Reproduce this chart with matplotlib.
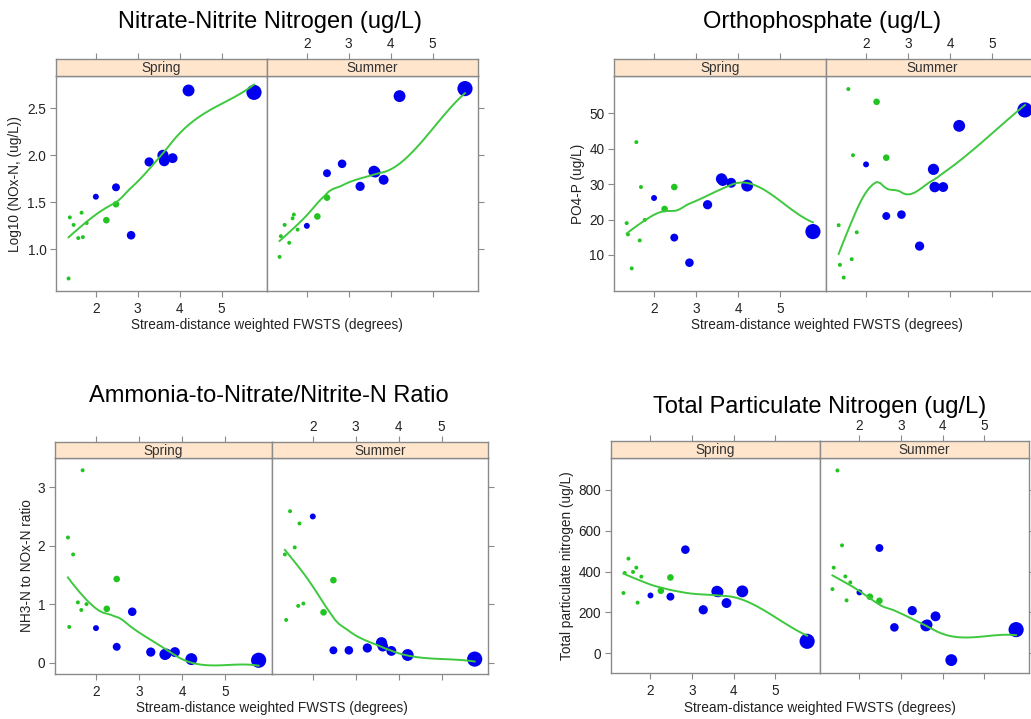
import numpy as np
import matplotlib
matplotlib.use("Agg")
import matplotlib.pyplot as plt

plt.rcParams['font.family'] = ['Liberation Sans', 'DejaVu Sans']

# --- Data (18 sites, shared x = stream-distance weighted FWSTS) ---
site_x = [1.35, 1.38, 1.47, 1.58, 1.66, 1.69, 1.78, 2.00, 2.25, 2.48,
          2.48, 2.84, 3.27, 3.60, 3.63, 3.83, 4.21, 5.77]
site_group = ['G', 'G', 'G', 'G', 'G', 'G', 'G', 'B', 'G', 'G',
              'B', 'B', 'B', 'B', 'B', 'B', 'B', 'B']
site_cex = [0.6, 0.6, 0.6, 0.6, 0.6, 0.6, 0.6, 0.9, 1.0, 1.0,
            1.2, 1.3, 1.4, 1.7, 1.6, 1.5, 1.8, 2.3]
seasons = ["Spring", "Summer"]

nox_spring = [0.69, 1.34, 1.26, 1.12, 1.39, 1.13, 1.28, 1.56, 1.31, 1.48,
              1.66, 1.15, 1.93, 2.00, 1.94, 1.97, 2.69, 2.67]
nox_summer = [0.92, 1.14, 1.26, 1.07, 1.33, 1.37, 1.21, 1.25, 1.35, 1.55,
              1.81, 1.91, 1.67, 1.83, 1.82, 1.74, 2.63, 2.71]

po4_spring = [19.0, 15.8, 6.2, 41.9, 14.1, 29.2, 19.9, 26.1, 23.0, 29.2,
              14.9, 7.8, 24.2, 31.5, 31.0, 30.4, 29.6, 16.6]
po4_summer = [18.4, 7.2, 3.6, 56.9, 8.8, 38.2, 16.4, 35.6, 53.3, 37.5,
              21.0, 21.4, 12.5, 34.2, 29.2, 29.2, 46.5, 51.0]

ratio_spring = [2.14, 0.61, 1.85, 1.03, 0.90, 3.29, 1.00, 0.59, 0.92, 1.43,
                0.27, 0.87, 0.18, 0.14, 0.15, 0.18, 0.06, 0.04]
ratio_summer = [1.85, 0.73, 2.59, 1.97, 0.97, 2.38, 1.01, 2.50, 0.86, 1.41,
                0.21, 0.21, 0.25, 0.34, 0.28, 0.20, 0.13, 0.06]

tpn_spring = [295, 393, 463, 398, 419, 248, 375, 283, 306, 371,
              277, 507, 213, 303, 300, 246, 303, 59]
tpn_summer = [314, 419, 894, 528, 376, 259, 347, 298, 277, 257,
              515, 127, 209, 135, 140, 181, -33, 116]

x_ticks = [2, 3, 4, 5]
xlabel = "Stream-distance weighted FWSTS (degrees)"

# --- Styling ---
W, H = 1031, 719
GREEN = '#22c422'
BLUE = '#0000ee'
LINE = '#3ec83e'
BORDER = '#8a8a8a'
STRIP = '#ffe5cc'
TXT = '#222222'
FS = 9.8
XLIM = (1.05, 6.08)


def loess(x, y, span=2/3, iterations=4, n_eval=50, cell=0.2):
    # robust local-linear loess, evaluated like R's loess "interpolate"
    # surface (kd-tree vertices + cubic Hermite), as used by panel.loess
    x = np.asarray(x, float)
    y = np.asarray(y, float)
    o = np.argsort(x)
    x, y = x[o], y[o]
    n = len(x)
    q = int(np.floor(n * span))
    fc = int(np.floor(n * span * cell))

    mu = 0.005 * (x.max() - x.min())
    verts = [x.min() - mu, x.max() + mu]

    def build(l, u, vlo, vhi):
        if u - l + 1 <= fc:
            return
        m = (l + u) // 2
        while m >= 1 and x[m - 1] == x[m]:
            m -= 1
        v = x[m]
        if v == vlo or v == vhi:
            return
        verts.append(v)
        build(l, m, vlo, v)
        build(m + 1, u, v, vhi)

    build(0, n - 1, verts[0], verts[1])
    vx = np.array(sorted(verts))

    def fit_at(x0, rw):
        d = np.abs(x - x0)
        h = np.sort(d)[q - 1]
        u = np.clip(d / h, 0, 1)
        w = (1 - u ** 3) ** 3 * rw
        X = np.column_stack([np.ones(n), x - x0])
        A = X.T @ (X * w[:, None])
        b = X.T @ (w * y)
        return np.linalg.lstsq(A, b, rcond=None)[0]

    def surface(xq, vv, vs):
        i = np.clip(np.searchsorted(vx, xq, side='right') - 1, 0, len(vx) - 2)
        d = vx[i + 1] - vx[i]
        t = (xq - vx[i]) / d
        return ((1 - t) ** 2 * (1 + 2 * t) * vv[i] + t ** 2 * (3 - 2 * t) * vv[i + 1]
                + (t * (1 - t) ** 2 * vs[i] + t ** 2 * (t - 1) * vs[i + 1]) * d)

    rob = np.ones(n)
    for it in range(iterations):
        coef = np.array([fit_at(v, rob) for v in vx])
        vv, vs = coef[:, 0], coef[:, 1]
        if it < iterations - 1:
            res = y - surface(x, vv, vs)
            cmad = 6 * np.median(np.abs(res))
            r = np.abs(res)
            rob = np.where(r <= 0.001 * cmad, 1.0,
                           np.where(r > 0.999 * cmad, 0.0,
                                    (1 - (r / cmad) ** 2) ** 2))
    xs = np.linspace(x.min(), x.max(), n_eval)
    return xs, surface(xs, vv, vs)


fig = plt.figure(figsize=(W / 100, H / 100), dpi=100)


def px_axes(x0, y0, x1, y1):
    return fig.add_axes([x0 / W, 1 - y1 / H, (x1 - x0) / W, (y1 - y0) / H])


# (title, ylabel, spring, summer, ylim, yticks, box, title_xy, ylabel_x)
panels = [
    ("Nitrate-Nitrite Nitrogen (ug/L)", "Log10 (NOx-N, (ug/L))",
     nox_spring, nox_summer, (0.557, 2.844), [1.0, 1.5, 2.0, 2.5],
     (56, 267, 478, 59, 76, 291), (270, 22), 15, (267, 325)),
    ("Orthophosphate (ug/L)", "PO4-P (ug/L)",
     po4_spring, po4_summer, (-0.2, 60.6), [10, 20, 30, 40, 50],
     (614, 826, 1038, 59, 76, 291), (822, 22), 578, (827, 325)),
    ("Ammonia-to-Nitrate/Nitrite-N Ratio", "NH3-N to NOx-N ratio",
     ratio_spring, ratio_summer, (-0.195, 3.50), [0, 1, 2, 3],
     (55, 272, 488, 442, 458, 674), (269, 396), 27, (272, 708)),
    ("Total Particulate Nitrogen (ug/L)", "Total particulate nitrogen (ug/L)",
     tpn_spring, tpn_summer, (-96, 955), [0, 200, 400, 600, 800],
     (611, 820, 1029, 441, 458, 673), (820, 407), 567, (820, 708)),
]

xs_arr = np.array(site_x)
cols = [GREEN if g == 'G' else BLUE for g in site_group]
sizes = [(c * 6.6 / 1.389) ** 2 for c in site_cex]

for title, ylab, ysp, ysu, ylim, yticks, box, tpos, ylx, xlpos in panels:
    left, mid, right, s_top, s_bot, bottom = box
    edges = [(left, mid), (mid, right)]
    for j, (season, yv) in enumerate(zip(seasons, [ysp, ysu])):
        x0, x1 = edges[j]
        ax = px_axes(x0, s_bot, x1, bottom)
        ax.set_xlim(*XLIM)
        ax.set_ylim(*ylim)
        ax.scatter(xs_arr, yv, s=sizes, c=cols, linewidths=0, zorder=2)
        lx, ly = loess(xs_arr, yv)
        ax.plot(lx, ly, color=LINE, lw=1.4, zorder=3)
        for sp in ax.spines.values():
            sp.set_color(BORDER)
            sp.set_linewidth(1.0)
        ax.set_xticks(x_ticks)
        ax.set_yticks(yticks)
        ax.tick_params(direction='out', length=4, width=0.8, color=BORDER,
                       labelsize=FS, labelcolor=TXT, pad=3)
        if j == 0:
            ax.tick_params(axis='x', bottom=True, labelbottom=True, pad=4)
            ax.tick_params(axis='y', left=True, labelleft=True, right=False)
            ax.set_yticklabels([f"{t:g}" if isinstance(t, int) else f"{t:.1f}" for t in yticks])
        else:
            ax.tick_params(axis='x', bottom=True, labelbottom=False)
            ax.tick_params(axis='y', left=False, labelleft=False,
                           right=True, labelright=False)

        st = px_axes(x0, s_top, x1, s_bot)
        st.set_facecolor(STRIP)
        st.set_xlim(*XLIM)
        st.set_yticks([])
        st.set_xticks(x_ticks)
        st.tick_params(axis='x', bottom=False, labelbottom=False, top=True,
                       labeltop=(j == 1), direction='out', length=4, width=0.8,
                       color=BORDER, labelsize=FS, labelcolor=TXT, pad=2)
        for sp in st.spines.values():
            sp.set_color(BORDER)
            sp.set_linewidth(1.0)
        st.text(0.5, 0.45, season, transform=st.transAxes, ha='center',
                va='center', fontsize=FS, color='#333333')

    fig.text(tpos[0] / W, 1 - tpos[1] / H, title, ha='center', va='center',
             fontsize=17, color='black')
    fig.text(ylx / W, 1 - ((s_bot + bottom) / 2) / H, ylab, rotation=90,
             ha='center', va='center', fontsize=FS, color=TXT)
    fig.text(xlpos[0] / W, 1 - xlpos[1] / H, xlabel, ha='center',
             va='center', fontsize=FS, color=TXT)

fig.savefig("out.png", dpi=100)
